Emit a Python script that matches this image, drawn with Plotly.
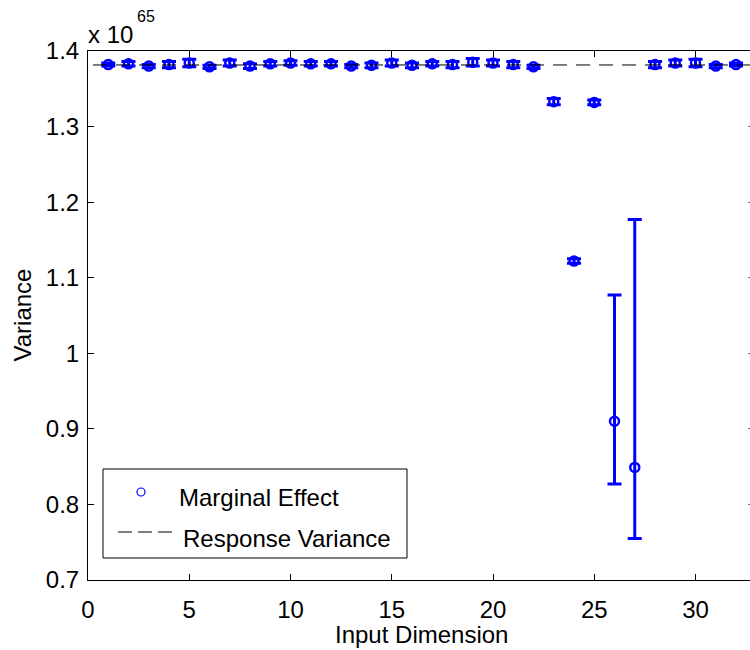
import plotly.graph_objects as go

# ---------------- data (values in units of 1e65) ----------------
SCALE_EXP = 65
dims = list(range(1, 33))
marginal_effect = [1.382, 1.383, 1.380, 1.382, 1.384, 1.379, 1.384, 1.380, 1.383, 1.384,
                   1.383, 1.383, 1.380, 1.381, 1.384, 1.381, 1.383, 1.382, 1.385, 1.384,
                   1.382, 1.379, 1.333, 1.122, 1.332, 0.910, 0.849, 1.382, 1.384, 1.384,
                   1.380, 1.382]
err_upper = [0.002, 0.003, 0.002, 0.004, 0.005, 0.002, 0.004, 0.003, 0.003, 0.003,
             0.003, 0.003, 0.002, 0.003, 0.004, 0.003, 0.003, 0.004, 0.005, 0.004,
             0.004, 0.002, 0.004, 0.003, 0.003, 0.167, 0.328, 0.004, 0.004, 0.005,
             0.002, 0.002]
err_lower = [0.002, 0.003, 0.002, 0.004, 0.005, 0.002, 0.004, 0.003, 0.003, 0.003,
             0.003, 0.003, 0.002, 0.003, 0.004, 0.003, 0.003, 0.004, 0.005, 0.004,
             0.004, 0.002, 0.004, 0.003, 0.003, 0.083, 0.094, 0.004, 0.004, 0.005,
             0.002, 0.002]
response_variance = 1.3815
response_x = [0.25, 33]
x_ticks = [0, 5, 10, 15, 20, 25, 30]
y_ticks = [0.7, 0.8, 0.9, 1.0, 1.1, 1.2, 1.3, 1.4]
y_ticktext = ["0.7", "0.8", "0.9", "1", "1.1", "1.2", "1.3", "1.4"]
legend_labels = ["Marginal Effect", "Response Variance"]

# ---------------- layout geometry (pixels) ----------------
W, H = 750, 650
L, R, T, B = 88, 750, 51, 580
PX_PER_X = 20.25
X_MAX = (R - L) / PX_PER_X

FONT = "Liberation Sans, Arial, sans-serif"
FS = 24


def px(xp):
    return (xp - L) / (R - L)


def py(yp):
    return (B - yp) / (B - T)


fig = go.Figure()

fig.add_trace(go.Scatter(
    x=response_x, y=[response_variance] * len(response_x),
    mode="lines", line=dict(color="black", width=1, dash="14px,9px"),
    yaxis="y2", showlegend=False, hoverinfo="skip"))

fig.add_trace(go.Scatter(
    x=dims, y=marginal_effect, mode="markers",
    marker=dict(symbol="circle-open", size=9, color="#0000ff",
                line=dict(width=2.5, color="#0000ff")),
    error_y=dict(type="data", symmetric=False, array=err_upper,
                 arrayminus=err_lower, thickness=3, width=7, color="#0000ff"),
    showlegend=False))

axis_common = dict(showgrid=False, zeroline=False, ticks="inside", ticklen=6,
                   tickcolor="black", linecolor="black", linewidth=1,
                   tickfont=dict(family=FONT, size=FS, color="black"))

fig.update_layout(
    width=W, height=H,
    margin=dict(l=L, r=W - R, t=T, b=H - B),
    paper_bgcolor="white", plot_bgcolor="white",
    showlegend=False,
    xaxis=dict(range=[0, X_MAX], tickvals=x_ticks, showline=True, mirror="ticks",
               ticklabelstandoff=8, **axis_common),
    yaxis=dict(range=[0.7, 1.4], tickvals=y_ticks, ticktext=y_ticktext,
               showline=True, mirror=False, ticklabelstandoff=3, **axis_common),
    yaxis2=dict(range=[0.7, 1.4], overlaying="y", side="right", anchor="x",
                tickvals=y_ticks, showticklabels=False, showline=False,
                showgrid=False, zeroline=False, ticks="inside", ticklen=2,
                tickcolor="#777777"),
)

shapes = [
    # legend box
    dict(type="rect", xref="paper", yref="paper",
         x0=px(103), x1=px(407), y0=py(558), y1=py(469),
         line=dict(color="black", width=1), fillcolor="white", layer="above"),
    # legend marker
    dict(type="circle", xref="paper", yref="paper",
         x0=px(137), x1=px(145), y0=py(496), y1=py(488),
         line=dict(color="#0000ff", width=1.2), fillcolor="white", layer="above"),
]
# legend dashed sample: three short dashes
for start in (118, 138, 158):
    shapes.append(dict(type="line", xref="paper", yref="paper",
                       x0=px(start), x1=px(start + 14), y0=py(532), y1=py(532),
                       line=dict(color="black", width=1), layer="above"))
fig.update_layout(shapes=shapes)

annotations = [
    dict(text=legend_labels[0], x=px(177), y=py(497), xref="paper", yref="paper",
         xanchor="left", yanchor="middle", showarrow=False,
         font=dict(family=FONT, size=FS, color="black")),
    dict(text=legend_labels[1], x=px(181), y=py(538), xref="paper", yref="paper",
         xanchor="left", yanchor="middle", showarrow=False,
         font=dict(family=FONT, size=FS, color="black")),
    dict(text="Input Dimension", x=px(421), y=py(634), xref="paper", yref="paper",
         xanchor="center", yanchor="middle", showarrow=False,
         font=dict(family=FONT, size=FS, color="black")),
    dict(text="Variance", x=px(22), y=0.5, xref="paper", yref="paper",
         xanchor="center", yanchor="middle", showarrow=False, textangle=-90,
         font=dict(family=FONT, size=FS, color="black")),
    dict(text="x 10", x=px(86), y=py(35), xref="paper", yref="paper",
         xanchor="left", yanchor="middle", showarrow=False,
         font=dict(family=FONT, size=FS, color="black")),
    dict(text=str(SCALE_EXP), x=px(135), y=py(16), xref="paper", yref="paper",
         xanchor="left", yanchor="middle", showarrow=False,
         font=dict(family=FONT, size=16, color="black")),
]
fig.update_layout(annotations=annotations)

fig.write_html("out.html")
